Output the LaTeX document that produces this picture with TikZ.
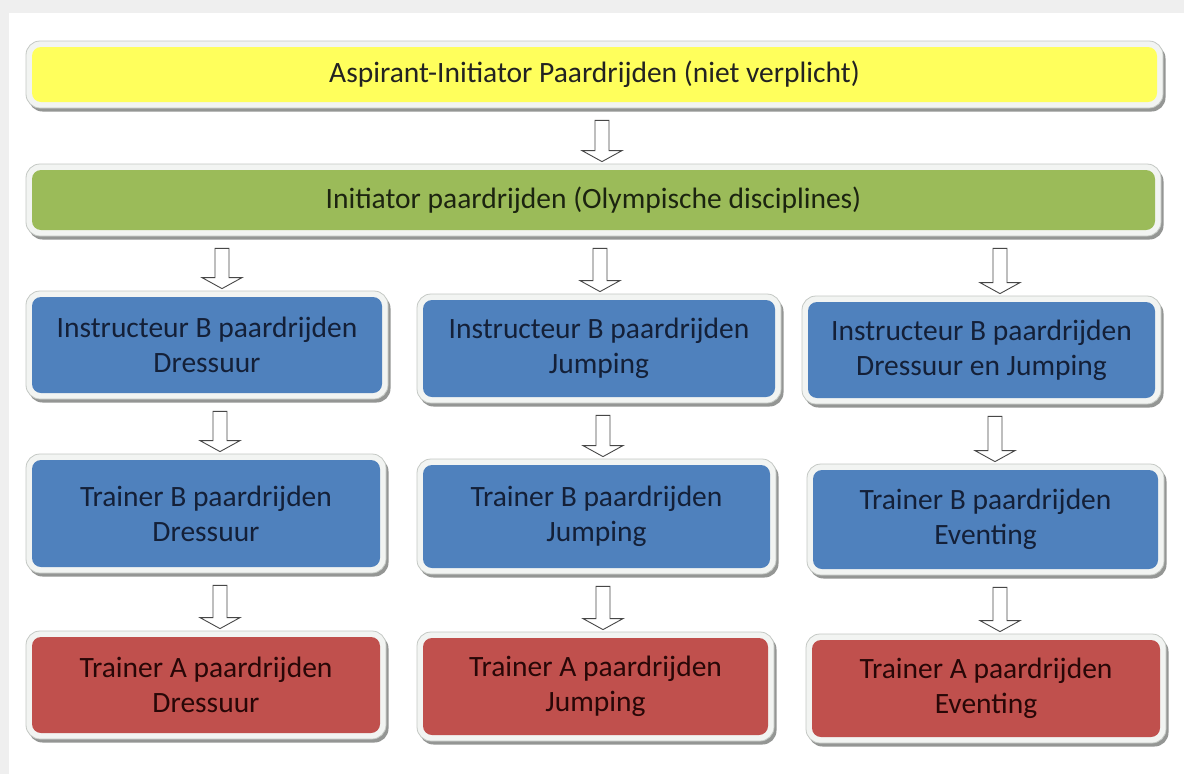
\documentclass[tikz,border=0pt]{standalone}
\usepackage{fontspec}
\setmainfont{Carlito}
\usetikzlibrary{calc,shadows}
\definecolor{yfill}{HTML}{FFFF5C}
\definecolor{gfill}{HTML}{9BBB59}
\definecolor{bfill}{HTML}{4F81BD}
\definecolor{rfill}{HTML}{C0504D}
\definecolor{ytext}{HTML}{222222}
\definecolor{gtext}{HTML}{1C2410}
\definecolor{btext}{HTML}{142038}
\definecolor{rtext}{HTML}{280707}
\definecolor{framecol}{HTML}{F2F4F2}
\definecolor{edgecol}{HTML}{C4C8C4}
\definecolor{shadowcol}{HTML}{949694}
\definecolor{pagegray}{HTML}{EFEFEF}
\begin{document}
\begin{tikzpicture}[x=1pt,y=1pt,
  boxbase/.style={rounded corners=14pt, draw=edgecol, line width=0.8pt, fill=framecol,
    inner sep=0pt, align=center, font=\fontsize{29.5}{35}\selectfont,
    drop shadow={shadow xshift=2.5pt, shadow yshift=-3.5pt, fill=shadowcol, opacity=1}},
  fillbox/.style={boxbase, path picture={\fill[#1, rounded corners=9pt]
      ([shift={(6pt,-6pt)}]path picture bounding box.north west) rectangle
      ([shift={(-6pt,6pt)}]path picture bounding box.south east);}},
  ybox/.style={fillbox=yfill, text=ytext},
  gbox/.style={fillbox=gfill, text=gtext},
  bbox/.style={fillbox=bfill, text=btext},
  rbox/.style={fillbox=rfill, text=rtext},
  blockarrow/.style={draw=black!72, fill=white, line width=0.9pt, line join=miter,
    to path={let \p1=(\tikztostart), \p2=(\tikztotarget) in
      (\x2-7pt,\y1-12pt) -- (\x2+7pt,\y1-12pt) -- (\x2+7pt,\y2+13pt) -- (\x2+20pt,\y2+13pt)
      -- (\x2,\y2+2pt) -- (\x2-20pt,\y2+13pt) -- (\x2-7pt,\y2+13pt) -- cycle}}
]
\useasboundingbox (0,0) rectangle (1184,-774);
\fill[pagegray] (0,0) rectangle (1184,-774);
\fill[white] (9,-13) rectangle (1184,-774);

\node[ybox, minimum width=1137pt, minimum height=67pt] (asp) at (594.5,-74.5) {Aspirant-Initiator Paardrijden (niet verplicht)};
\node[gbox, minimum width=1135pt, minimum height=72pt] (ini) at (593.5,-200) {Initiator paardrijden (Olympische disciplines)};

\node[bbox, minimum width=362pt, minimum height=108pt] (ib1) at (207,-345) {Instructeur B paardrijden\\Dressuur};
\node[bbox, minimum width=364pt, minimum height=109pt] (ib2) at (599,-348.5) {Instructeur B paardrijden\\Jumping};
\node[bbox, minimum width=359pt, minimum height=108pt] (ib3) at (981.5,-350) {Instructeur B paardrijden\\Dressuur en Jumping};

\node[bbox, minimum width=360pt, minimum height=119pt] (tb1) at (206,-513.5) {Trainer B paardrijden\\Dressuur};
\node[bbox, minimum width=359pt, minimum height=115pt] (tb2) at (596.5,-516.5) {Trainer B paardrijden\\Jumping};
\node[bbox, minimum width=357pt, minimum height=111pt] (tb3) at (985.5,-519.5) {Trainer B paardrijden\\Eventing};

\node[rbox, minimum width=360pt, minimum height=108pt] (ta1) at (206,-685) {Trainer A paardrijden\\Dressuur};
\node[rbox, minimum width=357pt, minimum height=109pt] (ta2) at (595.5,-686.5) {Trainer A paardrijden\\Jumping};
\node[rbox, minimum width=360pt, minimum height=109pt] (ta3) at (986,-688.5) {Trainer A paardrijden\\Eventing};

\draw[blockarrow] (asp.south) to ([xshift=8.5pt]ini.north);
\draw[blockarrow] (ini.south) to ([xshift=15pt]ib1.north);
\draw[blockarrow] (ini.south) to ([xshift=1pt]ib2.north);
\draw[blockarrow] (ini.south) to ([xshift=18.5pt]ib3.north);
\draw[blockarrow] (ib1.south) to ([xshift=14pt]tb1.north);
\draw[blockarrow] (ib2.south) to ([xshift=6.5pt]tb2.north);
\draw[blockarrow] (ib3.south) to ([xshift=9.5pt]tb3.north);
\draw[blockarrow] (tb1.south) to ([xshift=14pt]ta1.north);
\draw[blockarrow] (tb2.south) to ([xshift=7.5pt]ta2.north);
\draw[blockarrow] (tb3.south) to ([xshift=14pt]ta3.north);
\end{tikzpicture}
\end{document}
